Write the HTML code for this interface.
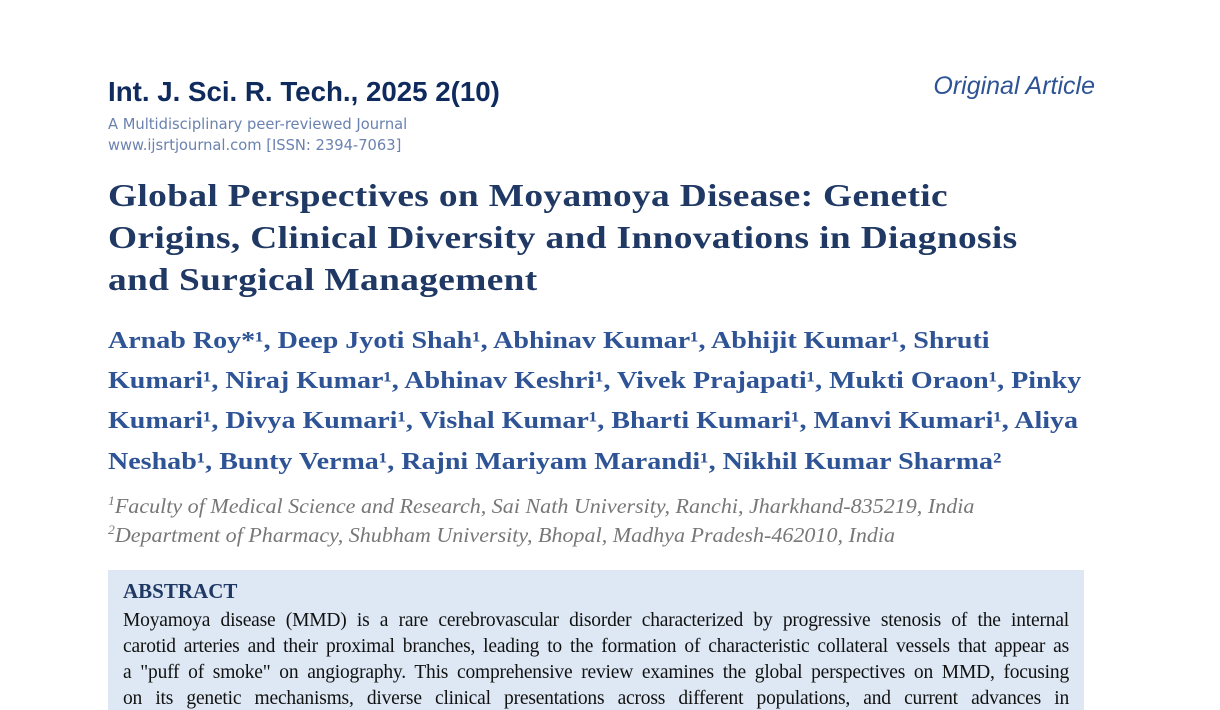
<!DOCTYPE html>
<html><head><meta charset="utf-8"><style>
body{margin:0;width:1220px;height:695px;overflow:hidden;background:#fff;position:relative;font-family:"Liberation Serif",serif}
.a{position:absolute;white-space:nowrap}
.t{font-weight:bold;color:#1f3864;font-size:32px;left:108px;letter-spacing:0.3px;transform:scaleX(1.168);transform-origin:left top}
.au{font-weight:bold;color:#2f5496;font-size:24.5px;left:108px;transform:scaleX(1.144);transform-origin:left top}
.af{font-style:italic;color:#777;font-size:21px;left:108px;transform:scaleX(1.05);transform-origin:left top}
.af sup{font-size:13px}
.box{position:absolute;left:108px;top:570px;width:976px;height:140px;background:#dde8f4}
.ab{position:absolute;left:123px;width:946px;font-size:19.5px;color:#111;text-align:justify;text-align-last:justify;white-space:nowrap;letter-spacing:-0.2px}
</style></head><body>
<div class="a" style="left:108px;top:76px;font-family:'Liberation Sans',sans-serif;font-weight:bold;font-size:27.7px;color:#0f2a5c">Int. J. Sci. R. Tech., 2025 2(10)</div>
<div class="a" style="left:108px;top:114px;font-family:'DejaVu Sans',sans-serif;font-size:14.7px;color:#6a82b0;line-height:21px">A Multidisciplinary peer-reviewed Journal<br>www.ijsrtjournal.com [ISSN: 2394-7063]</div>
<div class="a" style="right:125px;top:72px;font-family:'Liberation Sans',sans-serif;font-style:italic;font-size:25px;color:#2f5496">Original Article</div>
<div class="a t" style="top:177px">Global Perspectives on Moyamoya Disease: Genetic</div>
<div class="a t" style="top:219px">Origins, Clinical Diversity and Innovations in Diagnosis</div>
<div class="a t" style="top:261px">and Surgical Management</div>
<div class="a au" style="top:327px">Arnab Roy*¹, Deep Jyoti Shah¹, Abhinav Kumar¹, Abhijit Kumar¹, Shruti</div>
<div class="a au" style="top:367px">Kumari¹, Niraj Kumar¹, Abhinav Keshri¹, Vivek Prajapati¹, Mukti Oraon¹, Pinky</div>
<div class="a au" style="top:407px">Kumari¹, Divya Kumari¹, Vishal Kumar¹, Bharti Kumari¹, Manvi Kumari¹, Aliya</div>
<div class="a au" style="top:448px">Neshab¹, Bunty Verma¹, Rajni Mariyam Marandi¹, Nikhil Kumar Sharma²</div>
<div class="a af" style="top:493px"><sup>1</sup>Faculty of Medical Science and Research, Sai Nath University, Ranchi, Jharkhand-835219, India</div>
<div class="a af" style="top:522px"><sup>2</sup>Department of Pharmacy, Shubham University, Bhopal, Madhya Pradesh-462010, India</div>
<div class="box"></div>
<div class="a" style="left:123px;top:579px;font-weight:bold;font-size:21px;color:#1f3864">ABSTRACT</div>
<div class="ab" style="top:610px">Moyamoya disease (MMD) is a rare cerebrovascular disorder characterized by progressive stenosis of the internal</div>
<div class="ab" style="top:636px">carotid arteries and their proximal branches, leading to the formation of characteristic collateral vessels that appear as</div>
<div class="ab" style="top:662px">a "puff of smoke" on angiography. This comprehensive review examines the global perspectives on MMD, focusing</div>
<div class="ab" style="top:688px">on its genetic mechanisms, diverse clinical presentations across different populations, and current advances in</div>
</body></html>
